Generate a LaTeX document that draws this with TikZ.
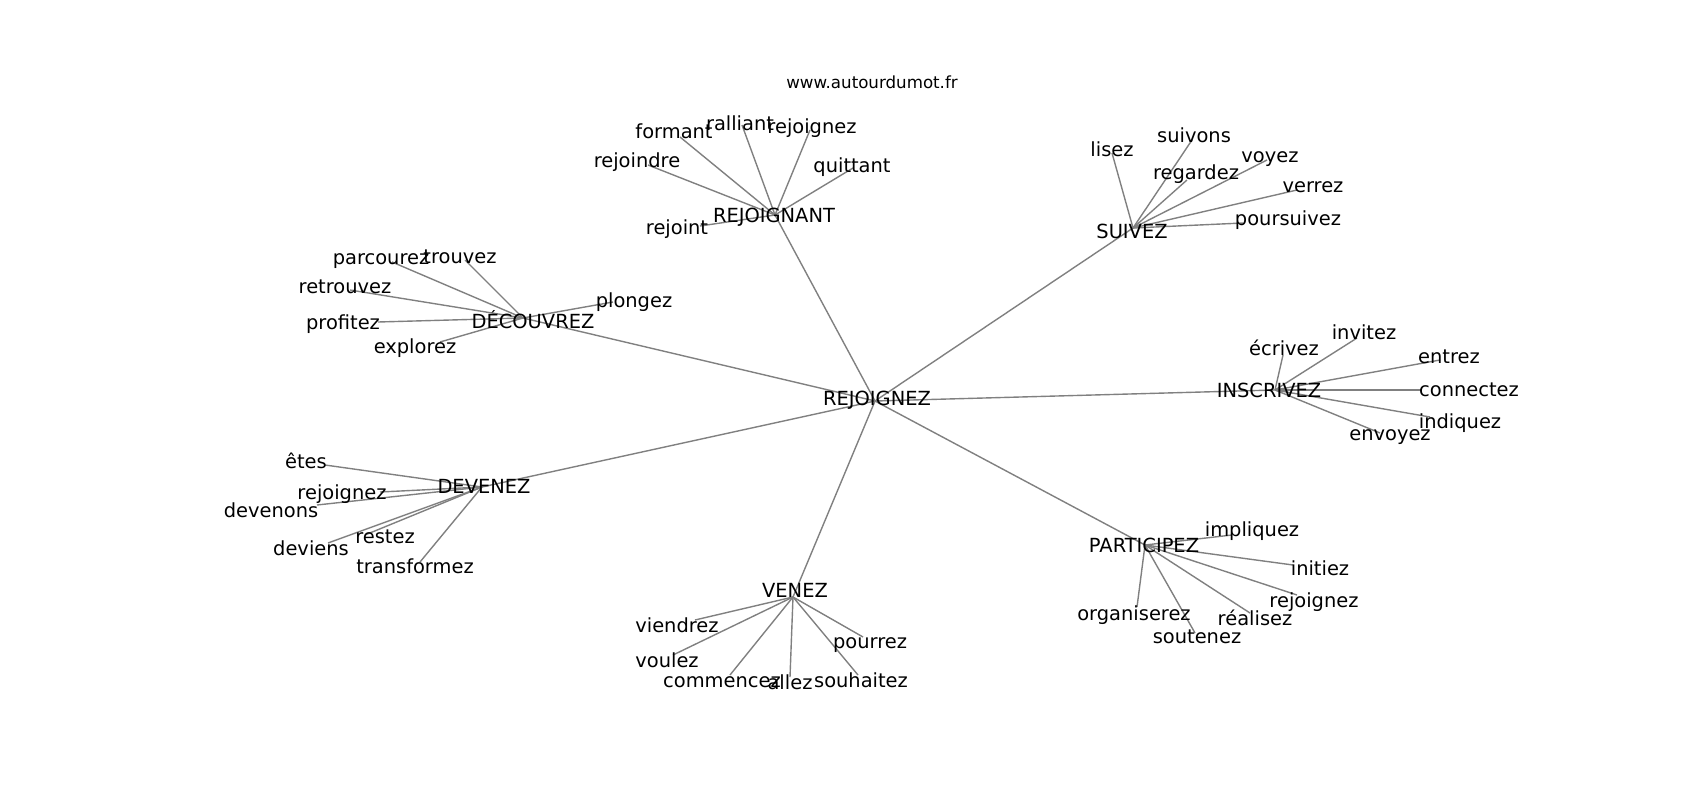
\documentclass[tikz,border=0pt]{standalone}
\usepackage{fontspec}
\setmainfont{DejaVu Sans}
\begin{document}
\begin{tikzpicture}[x=1pt,y=-1pt,
  lbl/.style={inner sep=0pt,anchor=base,font=\fontsize{19.44}{23}\selectfont,text=black},
  ttl/.style={inner sep=0pt,font=\fontsize{16.67}{20}\selectfont,text=black},
  edge/.style={draw=gray,line width=1.39pt}]
\useasboundingbox[fill=white] (0,0) rectangle (1700,800);
\node[ttl] (title) at (872,82.5) {www.autourdumot.fr};
% node positions (edge end points)
\coordinate (c) at (875,401);
\coordinate (rg) at (775,215);
\coordinate (su) at (1133,228);
\coordinate (de) at (523,318);
\coordinate (in) at (1275,390);
\coordinate (dv) at (482,487);
\coordinate (pa) at (1145,545);
\coordinate (ve) at (793,597);
\foreach \n/\x/\y in {
 rg1/680/137, rg2/742/125, rg3/810/130, rg4/648/165, rg5/853/168, rg6/700/226,
 su1/1112/153, su2/1192/140, su3/1187/180, su4/1267/160, su5/1297/190, su6/1243/223,
 de1/392/262, de2/465/260, de3/350/290, de4/378/322, de5/440/342, de6/613/302,
 in1/1283/355, in2/1357/338, in3/1440/360, in4/1422/390, in5/1430/417, in6/1380/433,
 dv1/325/465, dv2/380/492, dv3/317/505, dv4/365/535, dv5/328/543, dv6/420/562,
 pa1/1232/535, pa2/1293/565, pa3/1297/595, pa4/1250/613, pa5/1137/607, pa6/1195/633,
 ve1/695/620, ve2/673/655, ve3/730/675, ve4/790/677, ve5/858/675, ve6/863/637}
 {\coordinate (\n) at (\x,\y);}
% edges
\foreach \h in {rg,su,de,in,dv,pa,ve}{\draw[edge] (c) -- (\h);}
\foreach \h in {rg,su,de,in,dv,pa,ve}{\foreach \i in {1,...,6}{\draw[edge] (\h) -- (\h\i);}}
% hub labels (x centre, baseline)
\node[lbl] (lc) at (877,405) {REJOIGNEZ};
\node[lbl] (lrg) at (774,222) {REJOIGNANT};
\node[lbl] (lsu) at (1132,238) {SUIVEZ};
\node[lbl] (lde) at (533,328) {DÉCOUVREZ};
\node[lbl] (lin) at (1269,397) {INSCRIVEZ};
\node[lbl] (ldv) at (484,493) {DEVENEZ};
\node[lbl] (lpa) at (1144,552) {PARTICIPEZ};
\node[lbl] (lve) at (795,597) {VENEZ};
% leaf labels (x centre, baseline)
\foreach \n/\x/\y/\t in {
 rg1/674/138/formant, rg2/740/130/ralliant, rg3/812/133/rejoignez, rg4/637/167/rejoindre, rg5/852/172/quittant, rg6/677/234/rejoint,
 su1/1112/156/lisez, su2/1194/142/suivons, su3/1196/179/regardez, su4/1270/162/voyez, su5/1313/192/verrez, su6/1288/225/poursuivez,
 de1/381/264/parcourez, de2/460/263/trouvez, de3/345/293/retrouvez, de4/343/329/profitez, de5/415/353/explorez, de6/634/307/plongez,
 in1/1284/355/écrivez, in2/1364/339/invitez, in3/1449/363/entrez, in4/1469/396/connectez, in5/1460/428/indiquez, in6/1390/440/envoyez,
 dv1/306/468/êtes, dv2/342/499/rejoignez, dv3/271/517/devenons, dv4/385/543/restez, dv5/311/555/deviens, dv6/415/573/transformez,
 pa1/1252/536/impliquez, pa2/1320/575/initiez, pa3/1314/607/rejoignez, pa4/1255/625/réalisez, pa5/1134/620/organiserez, pa6/1197/643/soutenez,
 ve1/677/632/viendrez, ve2/667/667/voulez, ve3/722/687/commencez, ve4/790/689/allez, ve5/861/687/souhaitez, ve6/870/648/pourrez}
 {\node[lbl] (l\n) at (\x,\y) {\t};}
\end{tikzpicture}
\end{document}
